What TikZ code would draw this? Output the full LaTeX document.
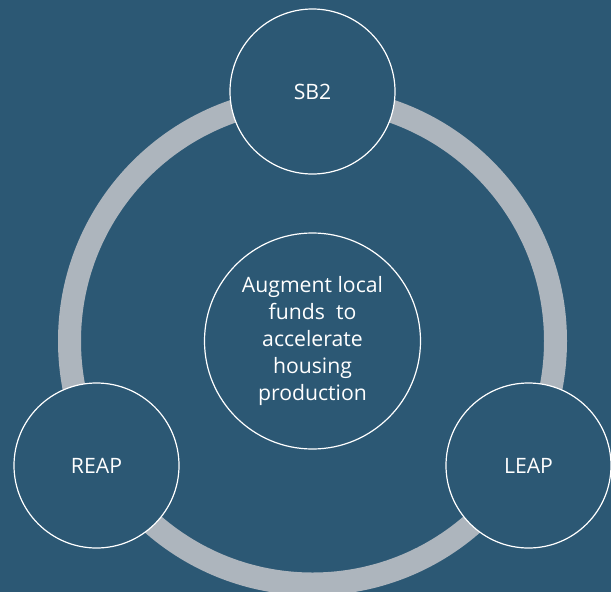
\documentclass[tikz,border=0pt]{standalone}
\usepackage{fontspec}
\setmainfont{Open Sans}
\definecolor{bg}{RGB}{44,88,116}
\definecolor{ringgray}{RGB}{173,181,189}
\begin{document}
\begin{tikzpicture}[x=1pt,y=1pt,
  bubble/.style={circle, draw=white, line width=1.2pt, fill=bg, text=white,
    inner sep=0pt, align=center, font=\fontsize{21.2}{26.8}\selectfont}]
\fill[bg] (0,0) rectangle (611,-592);
\useasboundingbox (0,0) rectangle (611,-592);
\coordinate (c) at (312.5,-341);
\draw[ringgray, line width=23pt] (c) circle[radius=243];
\node[bubble, minimum size=165pt] (sb2) at (312.5,-91.5) {SB2};
\node[bubble, minimum size=165pt] (reap) at (96.5,-465.5) {REAP};
\node[bubble, minimum size=165pt] (leap) at (528.5,-465.5) {LEAP};
\node[bubble, minimum size=216pt] (goal) at (c) {Augment local\\funds\ \ to\\accelerate\\housing\\production};
\end{tikzpicture}
\end{document}
